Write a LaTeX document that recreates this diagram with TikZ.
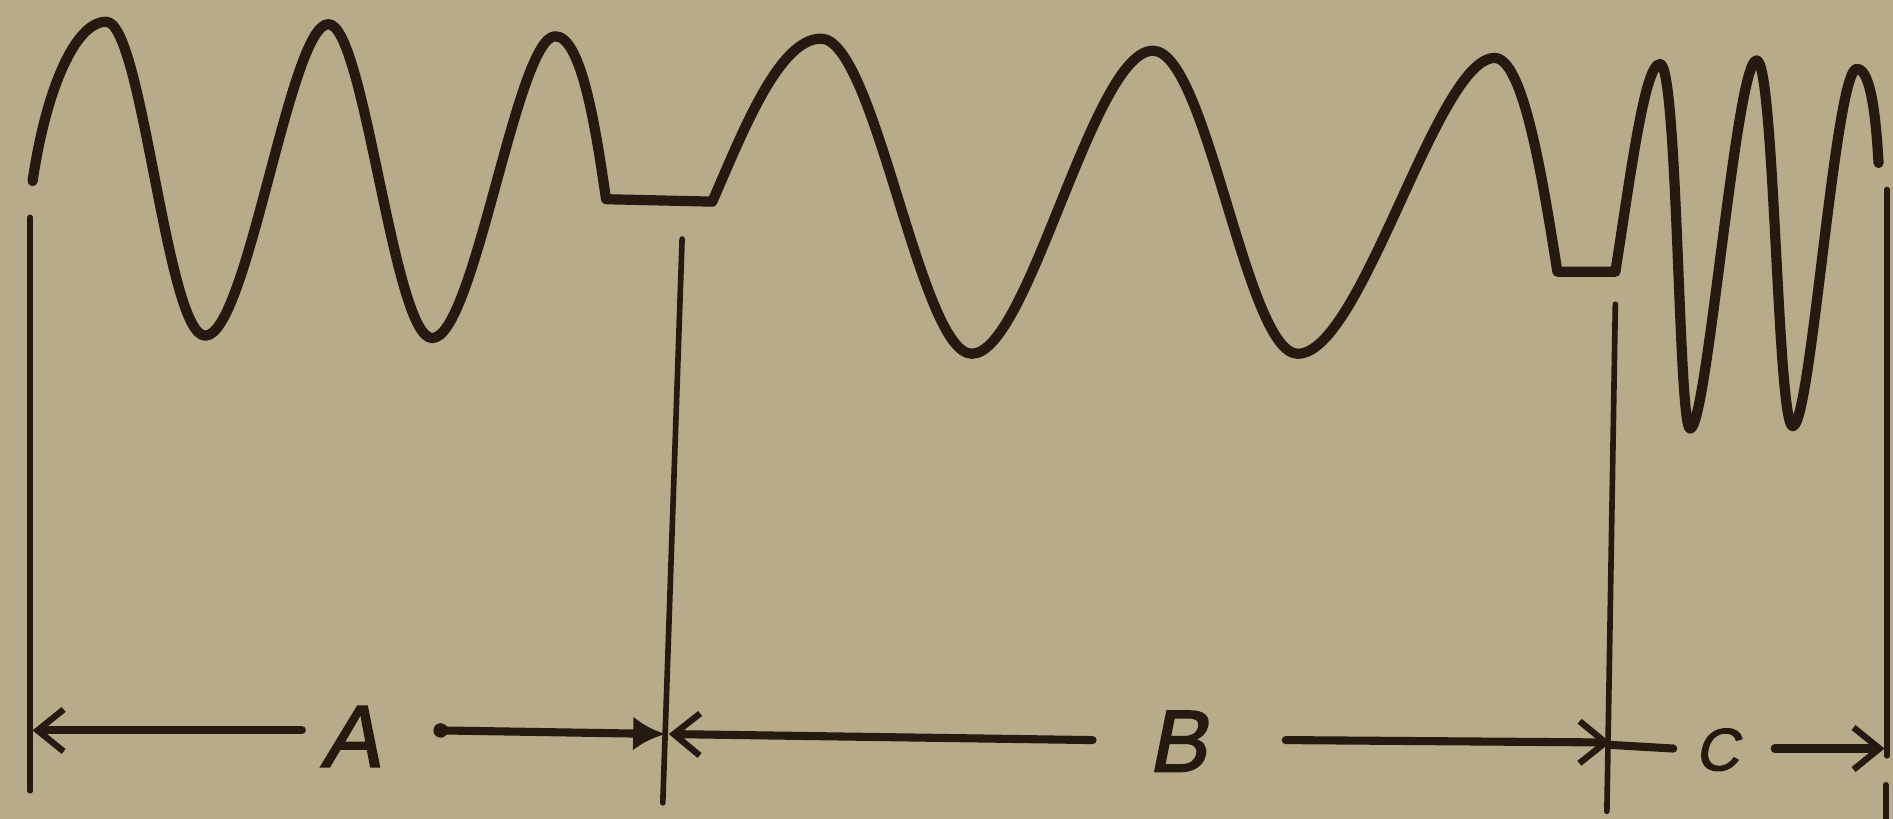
\documentclass[tikz,border=0pt]{standalone}
\usepackage{fontspec}
\setmainfont{Liberation Sans}
\newfontfamily\handfont[FakeSlant=0.2, FakeBold=2]{Liberation Sans}
\usetikzlibrary{arrows.meta}
\definecolor{paper}{RGB}{184,171,138}
\definecolor{ink}{RGB}{36,26,16}
\tikzset{
  wave/.style={draw=ink, line width=2.9pt, line join=round, line cap=round},
  vline/.style={draw=ink, line width=1.6pt, line cap=round},
  dim/.style={draw=ink, line width=2.3pt, line cap=round},
  barbtip/.style={-{Straight Barb[length=2.6mm,width=4.2mm,line width=1.8pt]}},
  headtip/.style={-{Latex[length=3.2mm,width=3.4mm]}},
  lbl/.style={text=ink, inner sep=0pt, font=\handfont\fontsize{25}{25}\selectfont},
  lblsmall/.style={text=ink, inner sep=0pt, font=\handfont\fontsize{17}{17}\selectfont}
}
\begin{document}
\begin{tikzpicture}[x=0.012073cm, y=-0.012073cm]
\fill[paper] (0,0) rectangle (1568,678);
\useasboundingbox (0,0) rectangle (1568,678);

% wave A
\draw[wave] (27,150) .. controls (38,75) and (62,18) .. (88,18)
  .. controls (118,18) and (138,278) .. (170,278)
  .. controls (205,278) and (240,20) .. (272,20)
  .. controls (302,20) and (326,280) .. (358,280)
  .. controls (393,280) and (428,30) .. (460,30)
  .. controls (482,30) and (494,110) .. (502,165)
  -- (590,167);
% wave B
\draw[wave] (590,167) .. controls (615,110) and (645,32) .. (680,32)
  .. controls (725,32) and (762,293) .. (805,293)
  .. controls (852,293) and (905,42) .. (955,42)
  .. controls (1000,42) and (1032,293) .. (1075,293)
  .. controls (1128,293) and (1190,48) .. (1238,48)
  .. controls (1262,48) and (1278,150) .. (1290,225)
  -- (1338,225);
% wave C
\draw[wave] (1338,225) .. controls (1350,150) and (1362,53) .. (1375,53)
  .. controls (1390,53) and (1390,355) .. (1400,355)
  .. controls (1414,355) and (1438,50) .. (1455,50)
  .. controls (1470,50) and (1472,353) .. (1485,353)
  .. controls (1500,353) and (1520,57) .. (1538,57)
  .. controls (1550,57) and (1554,100) .. (1556,135);

% vertical lines
\coordinate (v1t) at (25,180);  \coordinate (v1b) at (25,655);
\coordinate (v2t) at (565,198); \coordinate (v2b) at (549,665);
\coordinate (v3t) at (1338,252);\coordinate (v3b) at (1331,672);
\coordinate (v4t) at (1563,157);\coordinate (v4b) at (1563,626);
\coordinate (v5t) at (1562,650);\coordinate (v5b) at (1562,678);
\draw[vline] (v1t) -- (v1b);
\draw[vline] (v2t) -- (v2b);
\draw[vline] (v3t) -- (v3b);
\draw[vline] (v4t) -- (v4b);
\draw[vline] (v5t) -- (v5b);

% dimension A
\coordinate (a1) at (27,605);
\coordinate (a2) at (250,605);
\node[lbl] (A) at (290,610) {A};
\coordinate (a3) at (365,605);
\coordinate (a4) at (551,608);
\draw[dim,barbtip] (a2) -- (a1);
\draw[dim,headtip] (a3) -- (a4);
\fill[ink] (a3) circle (6);

% dimension B
\coordinate (b1) at (554,608);
\coordinate (b2) at (905,613);
\node[lbl] (B) at (975,614) {B};
\coordinate (b3) at (1065,613);
\coordinate (b4) at (1334,615);
\draw[dim,barbtip] (b2) -- (b1);
\draw[dim,barbtip] (b3) -- (b4);

% dimension C
\coordinate (c1) at (1334,617);
\coordinate (c2) at (1386,620);
\node[lblsmall] (C) at (1422,621) {C};
\coordinate (c3) at (1470,620);
\coordinate (c4) at (1561,620);
\draw[dim] (c1) -- (c2);
\draw[dim,barbtip] (c3) -- (c4);
\end{tikzpicture}
\end{document}
